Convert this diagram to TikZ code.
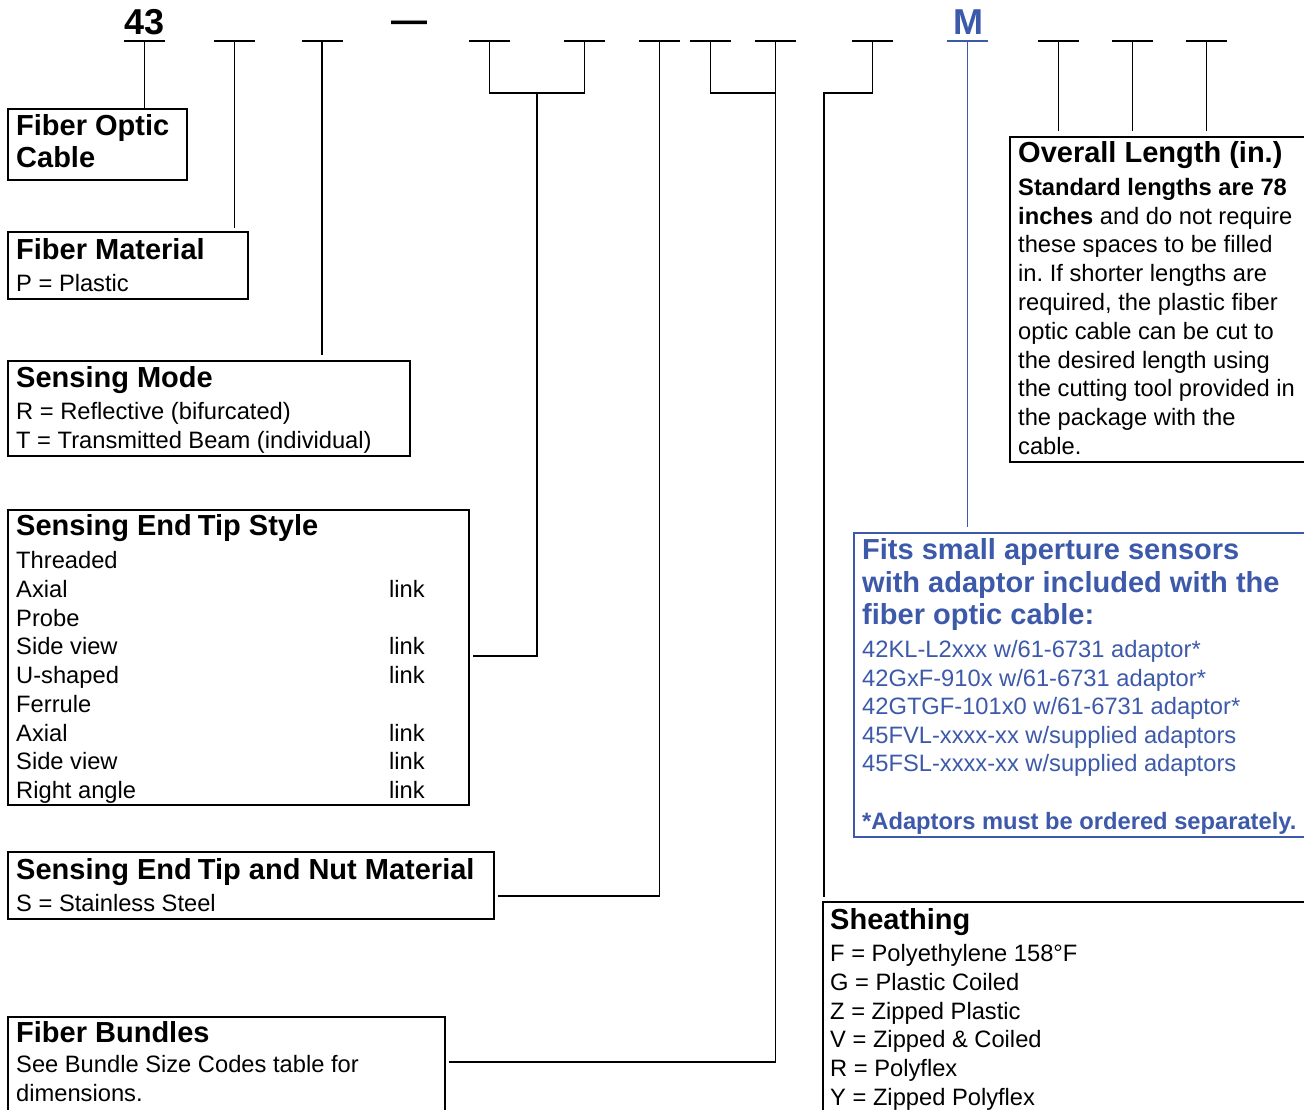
\documentclass[tikz,border=0pt]{standalone}
\usepackage{fontspec}
\setmainfont{Liberation Sans}
\usetikzlibrary{calc}
\definecolor{bl}{RGB}{61,90,170}
\frenchspacing
\newcommand{\hd}{\fontsize{29}{32}\bfseries\selectfont}
\newcommand{\bd}{\fontsize{23.7}{28.8}\selectfont}
\newcommand{\bigcode}{\fontsize{36}{40}\bfseries\selectfont}
\begin{document}
\begin{tikzpicture}[x=1pt,y=-1pt,
  conn/.style={line width=1.7pt,black},
  uline/.style={line width=1.9pt},
  box/.style={draw,line width=1.7pt,anchor=north west,inner sep=0pt,minimum width=#1},
  tx/.style={anchor=base west,inner sep=0pt},
  ttl/.style={anchor=base,inner sep=0pt}]
\clip (0,0) rectangle (1304,1110);
\fill[white] (0,0) rectangle (1304,1110);

% code characters
\node[ttl] (t43) at (144.5,35) {\bigcode 43};
\node[ttl] (tdash) at (409,33) {\bigcode —};
\node[ttl,text=bl] (tM) at (968,35) {\bigcode M};

% underline slots
\foreach \n/\x in {1/144.5,2/234.5,3/322,4/489.5,5/584.5,6/659.5,7/710.5,8/775.5,9/872.5,10/1058.5,11/1132.5,12/1206.5}{
  \coordinate (s\n) at (\x,41);
  \draw[uline] (\x-20.5,41) -- (\x+20.5,41);
}
\coordinate (sM) at (967.5,41);
\draw[uline,bl] (947,41) -- (988,41);

% boxes
\node[box=179pt,minimum height=71pt] (fo) at (7,108) {};
\node[box=240pt,minimum height=67pt] (fm) at (7,231) {};
\node[box=402pt,minimum height=95pt] (sm) at (7,360) {};
\node[box=461pt,minimum height=295pt] (st) at (7,509) {};
\node[box=486pt,minimum height=67pt] (nut) at (7,851) {};
\node[box=437pt,minimum height=110pt] (fb) at (7,1016) {};
\node[box=500pt,minimum height=325pt] (ol) at (1009,136) {};
\node[box=500pt,minimum height=304pt,draw=bl] (fit) at (853,532) {};
\node[box=500pt,minimum height=250pt] (sh) at (822,901) {};

% connectors
\draw[conn] (s1) -- (s1 |- fo.north);
\draw[conn] (s2) -- ($(s2 |- fm.north)+(0,-3)$);
\draw[conn] (s3) -- ($(s3 |- sm.north)+(0,-5)$);
\coordinate (j4) at (489.5,93);
\coordinate (j5) at (584.5,93);
\coordinate (j45) at (537,93);
\draw[conn] (s4) -- (j4) -- (j5) -- (s5);
\draw[conn] (j45) -- (537,656) -- ($(st.east |- 0,656)+(3,0)$);
\draw[conn] (s6) -- (659.5,896) -- ($(nut.east |- 0,896)+(3,0)$);
\coordinate (j7) at (710.5,93);
\draw[conn] (s7) -- (j7) -- (775.5,93);
\draw[conn] (s8) -- (775.5,1062) -- ($(fb.east |- 0,1062)+(3,0)$);
\draw[conn] (s9) -- (872.5,93) -- (824,93) -- ($(824,0 |- sh.north)+(0,-4)$);
\draw[conn,bl] (sM) -- ($(sM |- fit.north)+(0,-5)$);
\draw[conn] (s10) -- ($(s10 |- ol.north)+(0,-5)$);
\draw[conn] (s11) -- ($(s11 |- ol.north)+(0,-5)$);
\draw[conn] (s12) -- ($(s12 |- ol.north)+(0,-5)$);

% Fiber Optic Cable
\node[tx] (fo1) at (16,136) {\hd Fiber Optic};
\node[tx] (fo2) at (16,168) {\hd Cable};
% Fiber Material
\node[tx] (fm1) at (16,259) {\hd Fiber Material};
\node[tx] (fm2) at (16,291.5) {\bd P = Plastic};
% Sensing Mode
\node[tx] (sm1) at (16,387) {\hd Sensing Mode};
\node[tx] (sm2) at (16,419.5) {\bd R = Reflective (bifurcated)};
\node[tx] (sm3) at (16,448.5) {\bd T = Transmitted Beam (individual)};
% Sensing End Tip Style
\node[tx] (st0) at (16,535) {\hd Sensing End\kern-2pt\ Tip Style};
\foreach \i/\t/\l in {0/Threaded/,1/Axial/link,2/Probe/,3/Side view/link,4/U-shaped/link,5/Ferrule/,6/Axial/link,7/Side view/link,8/Right angle/link}{
  \node[tx] (sta\i) at (16,568.5+28.75*\i) {\bd \t};
  \node[tx] (stb\i) at (389,568.5+28.75*\i) {\bd \l};
}
% Nut material
\node[tx] (nut1) at (16,879) {\hd Sensing End\kern-2pt\ Tip and Nut Material};
\node[tx] (nut2) at (16,911.5) {\bd S = Stainless Steel};
% Fiber Bundles
\node[tx] (fb1) at (16,1042) {\hd Fiber Bundles};
\node[tx] (fb2) at (16,1072.5) {\bd See Bundle Size Codes table for};
\node[tx] (fb3) at (16,1101.5) {\bd dimensions.};
% Sheathing
\node[tx] (sh0) at (830,929) {\hd Sheathing};
\foreach \i/\t in {0/F = Polyethylene 158°F,1/G = Plastic Coiled,2/Z = Zipped Plastic,3/V = Zipped \& Coiled,4/R = Polyflex,5/Y = Zipped Polyflex}{
  \node[tx] (sh\i a) at (830,961.5+28.75*\i) {\bd \t};
}
% Overall Length
\node[tx] (ol0) at (1018,163) {\hd Overall Length (in.)};
\foreach \i/\t in {0/{\bfseries Standard lengths are 78},1/{\bfseries inches} and do not require,2/these spaces to be filled,3/in. If shorter lengths are,4/{required, the plastic fiber},5/optic cable can be cut to,6/the desired length using,7/the cutting tool provided in,8/the package with the,9/cable.}{
  \node[tx] (ol\i a) at (1018,195.5+28.75*\i) {\bd \t};
}
% Fits small aperture
\begin{scope}[every node/.append style={text=bl}]
\node[tx] (fi1) at (862,559) {\hd Fits small aperture sensors};
\node[tx] (fi2) at (862,592) {\hd with adaptor included with the};
\node[tx] (fi3) at (862,624) {\hd fiber optic cable:};
\foreach \i/\t in {0/{42KL-L2xxx w/61-6731 adaptor*},1/{42GxF-910x w/61-6731 adaptor*},2/{42GTGF-101x0 w/61-6731 adaptor*},3/{45FVL-xxxx-xx w/supplied adaptors},4/{45FSL-xxxx-xx w/supplied adaptors}}{
  \node[tx] (fia\i) at (862,657.5+28.6*\i) {\bd \t};
}
\node[tx] (fin) at (862,829.5) {\bd\bfseries *Adaptors must be ordered separately.};
\end{scope}
\end{tikzpicture}
\end{document}
